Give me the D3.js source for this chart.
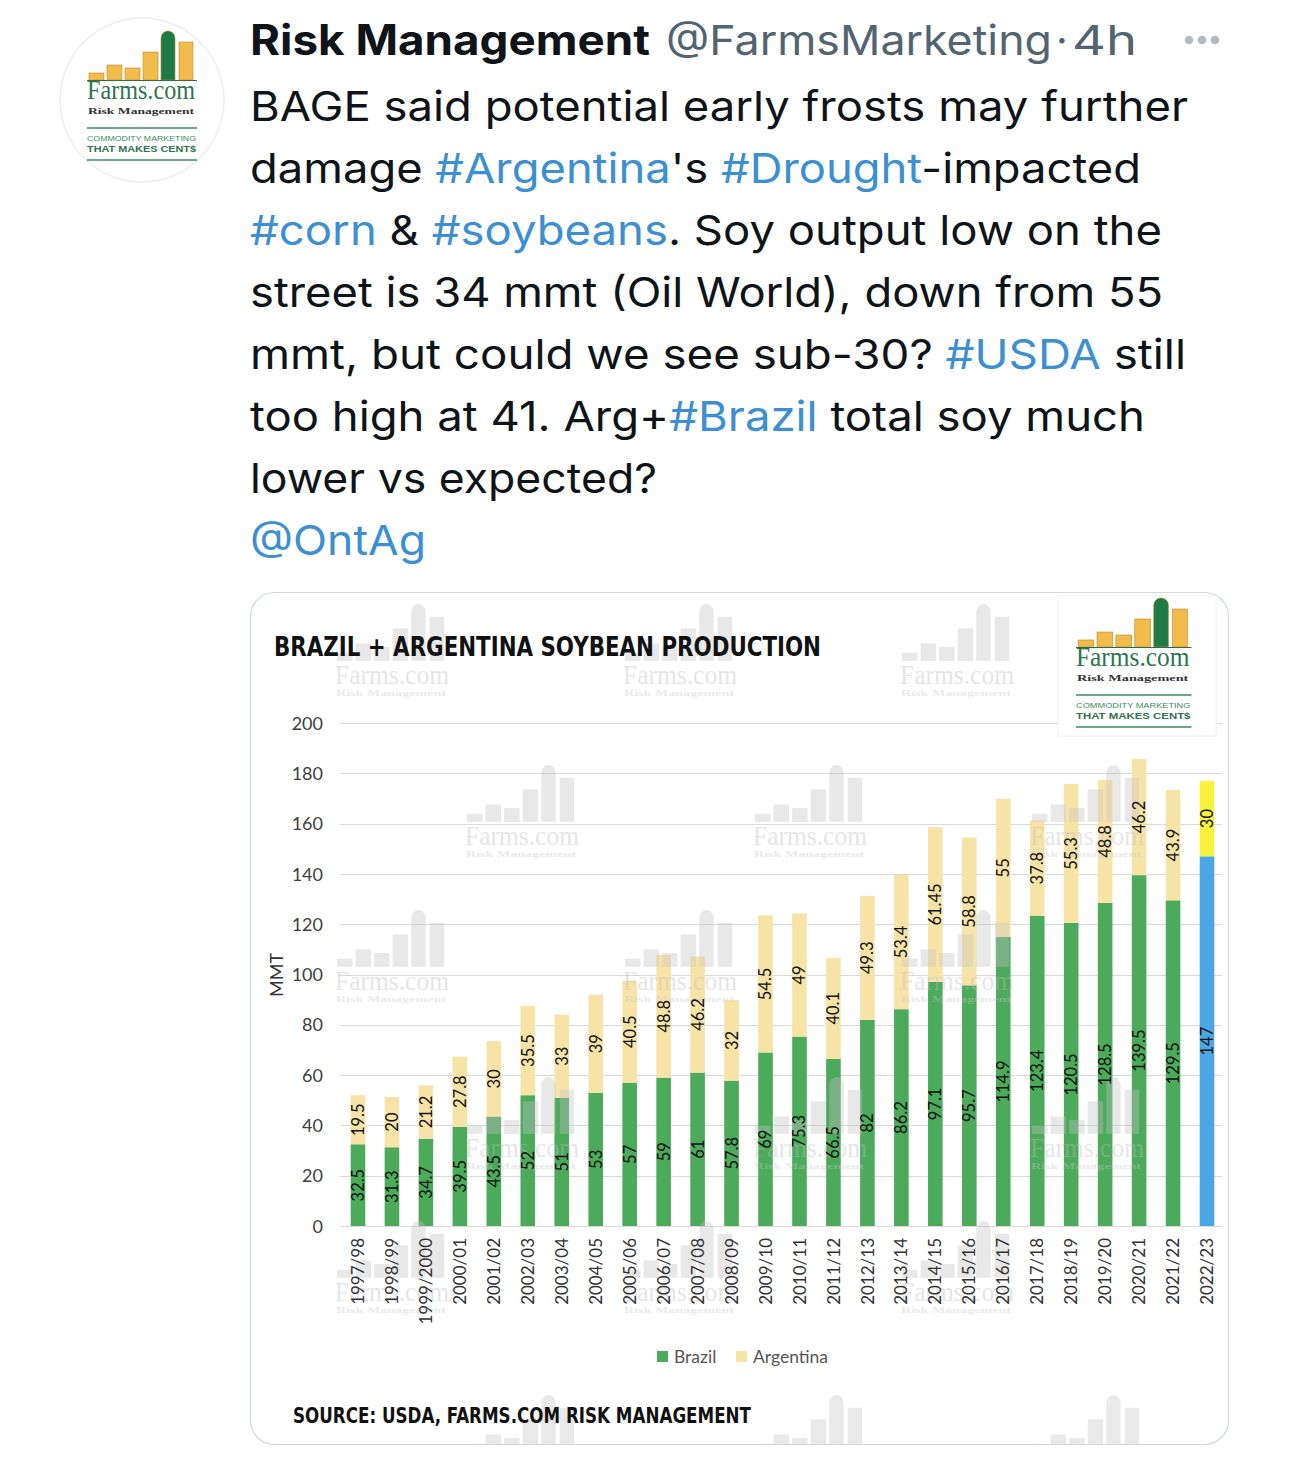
<!DOCTYPE html>
<html>
<head>
<meta charset="utf-8">
<script src="https://cdn.jsdelivr.net/npm/d3@7"></script>
<style>
  html, body { margin: 0; padding: 0; background: #fff; }
  svg { display: block; }
</style>
</head>
<body>
<svg id="chart" width="1290" height="1461"></svg>
<script>
// ---------------- DATA ----------------
const categories = ["1997/98","1998/99","1999/2000","2000/01","2001/02","2002/03","2003/04","2004/05",
  "2005/06","2006/07","2007/08","2008/09","2009/10","2010/11","2011/12","2012/13","2013/14","2014/15",
  "2015/16","2016/17","2017/18","2018/19","2019/20","2020/21","2021/22","2022/23"];
const brazil = [32.5,31.3,34.7,39.5,43.5,52,51,53,57,59,61,57.8,69,75.3,66.5,82,86.2,97.1,95.7,114.9,123.4,120.5,128.5,139.5,129.5,147];
const argentina = [19.5,20,21.2,27.8,30,35.5,33,39,40.5,48.8,46.2,32,54.5,49,40.1,49.3,53.4,61.45,58.8,55,37.8,55.3,48.8,46.2,43.9,30];
const forecastCategory = "2022/23";
const yTicks = [0,20,40,60,80,100,120,140,160,180,200];
const seriesNames = ["Brazil","Argentina"];

const tweetHeader = { name: "Risk Management", handle: "@FarmsMarketing", time: "4h" };
const tweetLines = [
  [["BAGE said potential early frosts may further", 0]],
  [["damage ", 0], ["#Argentina", 1], ["'s ", 0], ["#Drought", 1], ["-impacted", 0]],
  [["#corn", 1], [" & ", 0], ["#soybeans", 1], [". Soy output low on the", 0]],
  [["street is 34 mmt (Oil World), down from 55", 0]],
  [["mmt, but could we see sub-30? ", 0], ["#USDA", 1], [" still", 0]],
  [["too high at 41. Arg+", 0], ["#Brazil", 1], [" total soy much", 0]],
  [["lower vs expected?", 0]],
  [["@OntAg", 1]]
];
const lineWidths = [938, 891, 912, 913, 936, 895, 407, 176];

// ---------------- STYLE ----------------
const C = {
  green: "#4caa5b", yellow: "#f8e3a7", blue: "#4ba7e3", brightYellow: "#f9f23c",
  grid: "#d9d9d9", text: "#0f1419", link: "#3b8fd2", gray: "#536471"
};
const tweetFont = "Inter, 'Noto Sans', 'Liberation Sans', sans-serif";
const chartFont = "Lato, Carlito, 'Open Sans', sans-serif";
const narrowFont = "'Liberation Sans Narrow', 'DejaVu Sans Condensed', 'Arial Narrow', sans-serif";
const serifFont = "'Liberation Serif', 'DejaVu Serif', serif";

const svg = d3.select("#chart");

// ---------------- LOGO ----------------
const logoBars = [[2,15,7,0],[20,15,15,0],[38,15,12,0],[56,15,28,0],[74,14,49,1],[92,14,38,0]];
function barPaths(g, fillY, fillG, strokeCol) {
  logoBars.forEach(([x,w,h,silo]) => {
    const top = 49 - h;
    if (silo) {
      g.append("path")
        .attr("d", `M${x},49 V${top+7} A${w/2},7 0 0 1 ${x+w},${top+7} V49 Z`)
        .attr("fill", fillG).attr("stroke", strokeCol).attr("stroke-width", 0.6);
    } else {
      g.append("rect").attr("x", x).attr("y", top).attr("width", w).attr("height", h)
        .attr("fill", fillY).attr("stroke", strokeCol).attr("stroke-width", 0.6);
    }
  });
}
function drawLogo(parent, x0, y0, sx, sy) {
  const L = parent.append("g").attr("transform", `translate(${x0},${y0}) scale(${sx},${sy})`);
  barPaths(L, "#f3bb4c", "#1f7a46", "#b98a2a");
  L.append("line").attr("x1", 0).attr("x2", 110).attr("y1", 49.5).attr("y2", 49.5)
    .attr("stroke", "#2c6e49").attr("stroke-width", 1.2);
  L.append("text").attr("x", 0).attr("y", 68).text("Farms.com")
    .attr("font-family", serifFont).attr("font-size", 27).attr("fill", "#2f7350")
    .attr("textLength", 108).attr("lengthAdjust", "spacingAndGlyphs");
  L.append("text").attr("x", 1).attr("y", 83).text("Risk Management")
    .attr("font-family", serifFont).attr("font-weight", "bold").attr("font-size", 9).attr("fill", "#333")
    .attr("textLength", 106).attr("lengthAdjust", "spacingAndGlyphs");
  L.append("line").attr("x1", 0).attr("x2", 110).attr("y1", 97).attr("y2", 97)
    .attr("stroke", "#3d8a60").attr("stroke-width", 1.5);
  L.append("text").attr("x", 0).attr("y", 110).text("COMMODITY MARKETING")
    .attr("font-family", "'Liberation Sans', sans-serif").attr("font-size", 7.5).attr("fill", "#3d8a60")
    .attr("textLength", 109).attr("lengthAdjust", "spacingAndGlyphs");
  L.append("text").attr("x", 0).attr("y", 121).text("THAT MAKES CENT$")
    .attr("font-family", "'Liberation Sans', sans-serif").attr("font-weight", "bold").attr("font-size", 8.5).attr("fill", "#2f7350")
    .attr("textLength", 109).attr("lengthAdjust", "spacingAndGlyphs");
  L.append("line").attr("x1", 0).attr("x2", 110).attr("y1", 129).attr("y2", 129)
    .attr("stroke", "#3d8a60").attr("stroke-width", 1.5);
}

// ---------------- AVATAR ----------------
svg.append("circle").attr("cx", 142).attr("cy", 100).attr("r", 82)
  .attr("fill", "#fff").attr("stroke", "#ebeef0").attr("stroke-width", 1.5);
drawLogo(svg, 87, 31, 1, 1);

// ---------------- TWEET TEXT ----------------
svg.append("text").attr("x", 250).attr("y", 55)
  .attr("font-family", tweetFont).attr("font-size", 42).attr("font-weight", 700).attr("fill", C.text)
  .text(tweetHeader.name).attr("textLength", 400).attr("lengthAdjust", "spacingAndGlyphs");
svg.append("text").attr("x", 666).attr("y", 55).attr("font-family", tweetFont).attr("font-size", 41)
  .attr("fill", C.gray).text(tweetHeader.handle).attr("textLength", 386).attr("lengthAdjust", "spacingAndGlyphs");
svg.append("text").attr("x", 1056).attr("y", 55).attr("font-family", tweetFont).attr("font-size", 41)
  .attr("fill", C.gray).text("·");
svg.append("text").attr("x", 1072).attr("y", 55).attr("font-family", tweetFont).attr("font-size", 41)
  .attr("fill", C.gray).text(tweetHeader.time).attr("textLength", 65).attr("lengthAdjust", "spacingAndGlyphs");
[1189, 1202, 1215].forEach(cx => svg.append("circle").attr("cx", cx).attr("cy", 40).attr("r", 4.3).attr("fill", "#b4bcc3"));

tweetLines.forEach((parts, i) => {
  const t = svg.append("text").attr("x", 250).attr("y", 121 + i * 62)
    .attr("font-family", tweetFont).attr("font-size", 41)
    .attr("textLength", lineWidths[i]).attr("lengthAdjust", "spacingAndGlyphs");
  parts.forEach(([s, isLink]) => t.append("tspan").text(s).attr("fill", isLink ? C.link : C.text));
});

// ---------------- CARD ----------------
const card = { x: 250.5, y: 592.5, w: 978, h: 852, r: 24 };
svg.append("defs").append("clipPath").attr("id", "cardClip")
  .append("rect").attr("x", card.x).attr("y", card.y).attr("width", card.w).attr("height", card.h).attr("rx", card.r);
svg.append("rect").attr("x", card.x).attr("y", card.y).attr("width", card.w).attr("height", card.h)
  .attr("rx", card.r).attr("fill", "#fff").attr("stroke", "#cfd9de").attr("stroke-width", 1.2);

const chart = svg.append("g").attr("clip-path", "url(#cardClip)");

// scales
const x = d3.scaleBand().domain(categories).range([341, 1224]).paddingInner(0.57).paddingOuter(0.285);
const y = d3.scaleLinear().domain([0, 200]).range([1226, 723]);

// gridlines + y axis
const yAxis = d3.axisLeft(y).tickValues(yTicks).tickSize(0).tickPadding(0);
const yg = chart.append("g").attr("transform", "translate(323,0)").call(yAxis);
yg.select(".domain").remove();
yg.selectAll("text").attr("font-family", chartFont).attr("font-size", 18).attr("fill", "#404040").attr("dy", "0.34em");
chart.append("g").selectAll("line").data(yTicks).join("line")
  .attr("x1", 340).attr("x2", 1222).attr("y1", d => Math.round(y(d)) + 0.5).attr("y2", d => Math.round(y(d)) + 0.5)
  .attr("stroke", C.grid).attr("stroke-width", 1);

chart.append("text").attr("transform", "translate(283,975) rotate(-90)").attr("text-anchor", "middle")
  .attr("font-family", chartFont).attr("font-size", 18).attr("fill", "#333").text("MMT");

// stacked bars
const stackData = categories.map((c, i) => ({ cat: c, Brazil: brazil[i], Argentina: argentina[i] }));
const stacked = d3.stack().keys(seriesNames)(stackData);
const colorFor = (key, cat) => {
  const fc = cat === forecastCategory;
  if (key === "Brazil") return fc ? C.blue : C.green;
  return fc ? C.brightYellow : C.yellow;
};
stacked.forEach(layer => {
  chart.append("g").selectAll("rect").data(layer).join("rect")
    .attr("x", d => x(d.data.cat)).attr("width", x.bandwidth())
    .attr("y", d => y(d[1])).attr("height", d => y(d[0]) - y(d[1]))
    .attr("fill", d => colorFor(layer.key, d.data.cat));
});

// watermarks
function drawWatermark(parent, x0, B, withText) {
  const W = parent.append("g").attr("opacity", 0.38);
  const ic = W.append("g").attr("transform", `translate(${x0},${B - 57}) scale(1.03,1.16)`);
  barPaths(ic, "#c4c4c4", "#c4c4c4", "none");
  if (!withText) return;
  W.append("text").attr("x", x0).attr("y", B + 23).text("Farms.com")
    .attr("font-family", serifFont).attr("font-size", 27).attr("fill", "#bdbdbd")
    .attr("textLength", 114).attr("lengthAdjust", "spacingAndGlyphs");
  W.append("text").attr("x", x0 + 1).attr("y", B + 35).text("Risk Management")
    .attr("font-family", serifFont).attr("font-weight", "bold").attr("font-size", 8).attr("fill", "#c8c8c8")
    .attr("textLength", 110).attr("lengthAdjust", "spacingAndGlyphs");
}
const wmRowsA = [661, 967, 1278];
const wmRowsB = [822, 1134];
wmRowsA.forEach(B => [335, 623, 900].forEach(x0 => drawWatermark(chart, x0, B, true)));
wmRowsB.forEach(B => [465, 753, 1030].forEach(x0 => drawWatermark(chart, x0, B, true)));
[465, 753, 1030].forEach(x0 => drawWatermark(chart, x0, 1452, false));

// value labels
stacked.forEach(layer => {
  chart.append("g").selectAll("text").data(layer).join("text")
    .attr("transform", d => `translate(${x(d.data.cat) + x.bandwidth() / 2},${(y(d[0]) + y(d[1])) / 2}) rotate(-90)`)
    .attr("text-anchor", "middle").attr("dy", "0.36em")
    .attr("font-family", chartFont).attr("font-size", 16.5).attr("fill", "#111")
    .text(d => String(d.data[layer.key]));
});

// x axis labels
const xAxis = d3.axisBottom(x).tickSize(0).tickPadding(0);
const xg = chart.append("g").attr("transform", "translate(0,1238)").call(xAxis);
xg.select(".domain").remove();
xg.selectAll("text")
  .attr("transform", "rotate(-90)").attr("text-anchor", "end").attr("x", 0).attr("y", 0).attr("dy", "0.36em")
  .attr("font-family", chartFont).attr("font-size", 17).attr("fill", "#333");

// title & source
chart.append("text").attr("x", 274).attr("y", 656).text("BRAZIL + ARGENTINA SOYBEAN PRODUCTION")
  .attr("font-family", narrowFont).attr("font-weight", "bold").attr("font-size", 27).attr("fill", "#111")
  .attr("textLength", 547).attr("lengthAdjust", "spacingAndGlyphs");
chart.append("text").attr("x", 293).attr("y", 1423).text("SOURCE: USDA, FARMS.COM RISK MANAGEMENT")
  .attr("font-family", narrowFont).attr("font-weight", "bold").attr("font-size", 22).attr("fill", "#111")
  .attr("textLength", 458).attr("lengthAdjust", "spacingAndGlyphs");

// legend
const legend = chart.append("g");
const legendItems = [
  { name: seriesNames[0], color: C.green, x: 657, tx: 674 },
  { name: seriesNames[1], color: C.yellow, x: 736, tx: 753 }
];
legendItems.forEach(it => {
  legend.append("rect").attr("x", it.x).attr("y", 1351).attr("width", 11).attr("height", 11).attr("fill", it.color);
  legend.append("text").attr("x", it.tx).attr("y", 1363).text(it.name)
    .attr("font-family", chartFont).attr("font-size", 17.5).attr("fill", "#555");
});

// logo box top-right of chart
chart.append("rect").attr("x", 1058).attr("y", 596).attr("width", 158).attr("height", 140)
  .attr("fill", "#fff").attr("stroke", "#f0f0f0").attr("stroke-width", 1);
drawLogo(chart, 1076, 598, 1.05, 1.0);
</script>
</body>
</html>
